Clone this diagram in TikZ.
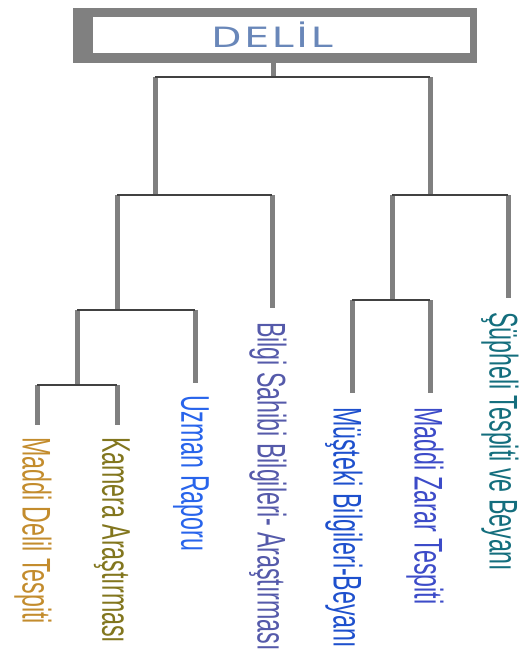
\documentclass[tikz,border=0pt]{standalone}
\usepackage{fontspec}
\usepackage{tikz,xcolor}
\usetikzlibrary{calc}
\newfontfamily\labelfont{Liberation Sans}
\newfontfamily\titlefont{DejaVu Sans}
\definecolor{framegray}{RGB}{128,128,128}
\definecolor{bargray}{RGB}{65,65,65}
\definecolor{titleblue}{RGB}{105,135,185}
\definecolor{goldtext}{RGB}{195,140,45}
\definecolor{olivetext}{RGB}{130,118,30}
\definecolor{bluetext}{RGB}{40,100,235}
\definecolor{slatetext}{RGB}{85,90,170}
\definecolor{mublue}{RGB}{30,80,205}
\definecolor{zarblue}{RGB}{60,75,200}
\definecolor{tealtext}{RGB}{20,110,125}

\begin{document}
\begin{tikzpicture}[x=1pt, y=-1pt,
	vline/.style={framegray, line width=5pt},
	hline/.style={bargray, line width=2pt},
	leaf/.style={rotate=-90, xscale=0.58, anchor=west, inner sep=0pt, font=\labelfont\fontsize{40}{40}\selectfont}]

	\useasboundingbox (0,0) rectangle (521,657);

	% Draw the title box
	\fill[framegray] (73,8) rectangle (477,63);
	\fill[white] (93,17) rectangle (470,53);
	\node[text=titleblue, xscale=1.4, font=\titlefont\fontsize{28}{28}\selectfont] (root) at (272,35) {D\kern2pt E\kern2pt L\kern2pt İ\kern2pt L};

	% Junction points of the tree
	\coordinate (r) at (273,63);
	\coordinate (j0) at (273,77);
	\coordinate (a) at (155,77);   \coordinate (c) at (430,77);
	\coordinate (a0) at (155,195); \coordinate (c0) at (430,195);
	\coordinate (a1) at (117,195); \coordinate (a2) at (272,195);
	\coordinate (c1) at (392,195); \coordinate (c2) at (508,195);
	\coordinate (b0) at (117,310); \coordinate (d0) at (392,300);
	\coordinate (b1) at (77,310);  \coordinate (b2) at (195,310);
	\coordinate (d1) at (352,300); \coordinate (d2) at (430,300);
	\coordinate (e0) at (77,385);
	\coordinate (e1) at (37,385);  \coordinate (e2) at (117,385);

	% Leaf ends
	\coordinate (f1) at (37,425);
	\coordinate (f2) at (117,425);
	\coordinate (f3) at (195,383);
	\coordinate (f4) at (272,308);
	\coordinate (f5) at (352,393);
	\coordinate (f6) at (430,393);
	\coordinate (f7) at (508,298);

	% Draw the vertical stems
	\draw[vline] (r) -- (j0);
	\draw[vline] (a) -- (a0);
	\draw[vline] (c) -- (c0);
	\draw[vline] (a1) -- (b0);
	\draw[vline] (a2) -- (f4);
	\draw[vline] (c1) -- (d0);
	\draw[vline] (c2) -- (f7);
	\draw[vline] (b1) -- (e0);
	\draw[vline] (b2) -- (f3);
	\draw[vline] (d1) -- (f5);
	\draw[vline] (d2) -- (f6);
	\draw[vline] (e1) -- (f1);
	\draw[vline] (e2) -- (f2);

	% Draw the horizontal bars
	\draw[hline] (a) -- (c);
	\draw[hline] (a1) -- (a2);
	\draw[hline] (c1) -- (c2);
	\draw[hline] (b1) -- (b2);
	\draw[hline] (d1) -- (d2);
	\draw[hline] (e1) -- (e2);

	% Labels under the leaves
	\node[leaf, text=goldtext] (l1) at ($(f1)+(-4,12)$) {Maddi Delil Tespiti};
	\node[leaf, text=olivetext] (l2) at ($(f2)+(-5,12)$) {Kamera Araştırması};
	\node[leaf, text=bluetext] (l3) at ($(f3)+(-4,12)$) {Uzman Raporu};
	\node[leaf, text=slatetext] (l4) at ($(f4)+(-4,14)$) {Bilgi Sahibi Bilgileri- Araştırması};
	\node[leaf, text=mublue] (l5) at ($(f5)+(-8,14)$) {Müşteki Bilgileri-Beyanı};
	\node[leaf, text=zarblue] (l6) at ($(f6)+(-5,14)$) {Maddi Zarar Tespiti};
	\node[leaf, text=tealtext] (l7) at ($(f7)+(-8,14)$) {Şüpheli Tespiti ve Beyanı};

\end{tikzpicture}
\end{document}
